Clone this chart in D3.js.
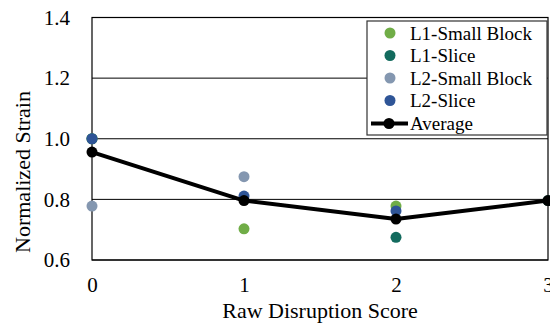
<!DOCTYPE html>
<html>
<head>
<meta charset="utf-8">
<script src="https://cdn.jsdelivr.net/npm/d3@7"></script>
<style>
  html, body { margin: 0; padding: 0; background: #fff; overflow: hidden; }
  svg { display: block; }
  svg text { font-family: "Liberation Serif", "Times New Roman", Tinos, "DejaVu Serif", serif !important; fill: #000; }
</style>
</head>
<body>
<svg id="chart" width="550" height="325"></svg>
<script>
// Disruption scores on the x axis
const scores = [0, 1, 2, 3];

// Normalized strain per specimen group (null = not measured at that score)
const l1SmallBlock = [1.0, 0.703, 0.778, null];
const l1Slice      = [1.0, null, 0.675, 0.796];
const l2SmallBlock = [0.778, 0.875, null, null];
const l2Slice      = [1.0, 0.811, 0.762, null];
const average      = [0.956, 0.796, 0.735, 0.796];

const seriesNames  = ["L1-Small Block", "L1-Slice", "L2-Small Block", "L2-Slice"];
const seriesColors = ["#70AD47", "#136B5E", "#8497B0", "#2F5597"];
const yTicks = [0.6, 0.8, 1.0, 1.2, 1.4];

const series = [l1SmallBlock, l1Slice, l2SmallBlock, l2Slice];

const svg = d3.select("#chart");

const x = d3.scaleLinear().domain([0, 3]).range([92, 548]);
const y = d3.scaleLinear().domain([0.6, 1.4]).range([260, 17.5]);

// gridlines
svg.append("g")
  .selectAll("line")
  .data(yTicks)
  .join("line")
  .attr("x1", x(0)).attr("x2", x(3))
  .attr("y1", d => y(d)).attr("y2", d => y(d))
  .attr("stroke", "#000").attr("stroke-width", 1);

// frame
svg.append("rect")
  .attr("x", x(0)).attr("y", y(1.4))
  .attr("width", x(3) - x(0)).attr("height", y(0.6) - y(1.4))
  .attr("fill", "none").attr("stroke", "#000").attr("stroke-width", 1.2);

// y axis labels
const yAxis = d3.axisLeft(y).tickValues(yTicks).tickFormat(d3.format(".1f")).tickSize(0).tickPadding(22);
svg.append("g").attr("transform", `translate(${x(0)},0)`).call(yAxis)
  .attr("font-family", null)
  .call(g => g.select(".domain").remove())
  .selectAll("text").style("font-size", "21px");

// x axis labels
const xAxis = d3.axisBottom(x).tickValues(scores).tickFormat(d3.format("d")).tickSize(0).tickPadding(17);
svg.append("g").attr("transform", `translate(0,${y(0.6)})`).call(xAxis)
  .attr("font-family", null)
  .call(g => g.select(".domain").remove())
  .selectAll("text").style("font-size", "21px");

// axis titles
svg.append("text")
  .attr("x", 320).attr("y", 318)
  .attr("text-anchor", "middle")
  .style("font-size", "22px")
  .text("Raw Disruption Score");

svg.append("text")
  .attr("transform", "translate(30,172) rotate(-90)")
  .attr("text-anchor", "middle")
  .style("font-size", "22px")
  .text("Normalized Strain");

// scatter points
series.forEach((vals, i) => {
  svg.append("g")
    .selectAll("circle")
    .data(scores.map((s, j) => ({ s, v: vals[j] })).filter(d => d.v != null))
    .join("circle")
    .attr("cx", d => x(d.s)).attr("cy", d => y(d.v))
    .attr("r", 5.5)
    .attr("fill", seriesColors[i]);
});

// average line
const avgData = scores.map((s, j) => ({ s, v: average[j] }));
svg.append("path")
  .datum(avgData)
  .attr("fill", "none")
  .attr("stroke", "#000")
  .attr("stroke-width", 4)
  .attr("stroke-linejoin", "round")
  .attr("d", d3.line().x(d => x(d.s)).y(d => y(d.v)));
svg.append("g")
  .selectAll("circle")
  .data(avgData)
  .join("circle")
  .attr("cx", d => x(d.s)).attr("cy", d => y(d.v))
  .attr("r", 5.5).attr("fill", "#000");

// legend
const lg = svg.append("g");
lg.append("rect")
  .attr("x", 367).attr("y", 21).attr("width", 180).attr("height", 114)
  .attr("fill", "#fff").attr("stroke", "#333").attr("stroke-width", 1.2);

const rowY = [33, 55.5, 78, 100.5, 123.5];
seriesNames.forEach((name, i) => {
  lg.append("circle").attr("cx", 390).attr("cy", rowY[i]).attr("r", 5.5).attr("fill", seriesColors[i]);
  lg.append("text").attr("x", 410).attr("y", rowY[i]).attr("dy", "0.35em")
    .style("font-size", "19px").text(name);
});
lg.append("line").attr("x1", 371).attr("x2", 408).attr("y1", rowY[4]).attr("y2", rowY[4])
  .attr("stroke", "#000").attr("stroke-width", 4);
lg.append("circle").attr("cx", 389).attr("cy", rowY[4]).attr("r", 5.5).attr("fill", "#000");
lg.append("text").attr("x", 410).attr("y", rowY[4]).attr("dy", "0.35em")
  .style("font-size", "19px").text("Average");
</script>
</body>
</html>
